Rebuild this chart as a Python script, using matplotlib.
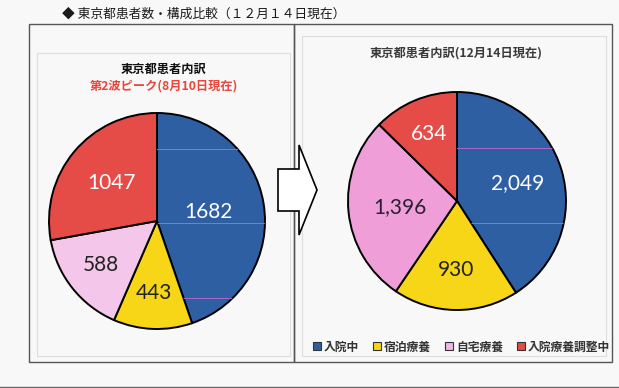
import numpy as np
import matplotlib.pyplot as plt
from matplotlib.patches import Rectangle, Polygon
from matplotlib.lines import Line2D

plt.rcParams['font.family'] = ['Noto Sans CJK JP', 'DejaVu Sans']

# ---------------- data ----------------
categories = ['入院中', '宿泊療養', '自宅療養', '入院療養調整中']
aug_values = [1682, 443, 588, 1047]
dec_values = [2049, 930, 1396, 634]
aug_labels = ['1682', '443', '588', '1047']
dec_labels = ['2,049', '930', '1,396', '634']

main_title = '◆ 東京都患者数・構成比較（１２月１４日現在）'
left_title = '東京都患者内訳'
left_sub = '第2波ピーク(8月10日現在)'
right_title = '東京都患者内訳(12月14日現在)'

# ---------------- style ----------------
W, H = 619, 388
aug_colors = ['#2f5fa3', '#f7d517', '#f3c6ea', '#e54b47']
dec_colors = ['#2f5fa3', '#f7d517', '#f09ed8', '#e54b47']
txt_colors = ['white', '#222222', '#2a2035', 'white']
legend_colors = ['#2f5fa3', '#f7d517', '#f3b6e4', '#e54b47']

fig = plt.figure(figsize=(W / 100, H / 100), dpi=100)
fig.patch.set_facecolor('#f8f8f8')

# overlay in pixel coordinates
ov = fig.add_axes([0, 0, 1, 1])
ov.set_xlim(0, W)
ov.set_ylim(H, 0)
ov.axis('off')

# frames
ov.add_patch(Rectangle((29, 24), 265, 338, fill=False, ec='#555555', lw=1.0))
ov.add_patch(Rectangle((294, 24), 318, 338, fill=False, ec='#555555', lw=1.0))
ov.add_patch(Rectangle((37, 53), 253, 303, fill=False, ec='#dddddd', lw=0.8))
ov.add_patch(Rectangle((302, 36), 304, 320, fill=False, ec='#dddddd', lw=0.8))
ov.plot([0, W], [386.5, 386.5], color='#666666', lw=1.0)

# arrow
arrow = Polygon([(278, 169), (299, 169), (299, 145), (317, 190),
                 (299, 235), (299, 211), (278, 211)],
                closed=True, fc='white', ec='black', lw=1.2, zorder=5)
ov.add_patch(arrow)

# titles
ov.text(62, 14, main_title, fontsize=9.2, color='#1a1a1a', va='center', ha='left')
ov.text(163, 69, left_title, fontsize=8.8, fontweight='bold', color='#111111',
        ha='center', va='center')
ov.text(164, 86, left_sub, fontsize=8.8, fontweight='bold', color='#e8463c',
        ha='center', va='center')
ov.text(456, 53, right_title, fontsize=8.8, fontweight='bold', color='#3a3a3a',
        ha='center', va='center')


def draw_pie(cx, cy, r, values, colors, labels, dists, grid_y, pink_txt):
    pad = 1.03
    ax = fig.add_axes([(cx - r * pad) / W, (H - cy - r * pad) / H,
                       2 * r * pad / W, 2 * r * pad / H])
    wedges, _ = ax.pie(values, colors=colors, startangle=90, counterclock=False,
                       radius=1, wedgeprops=dict(edgecolor='black', linewidth=1.4))
    ax.set_xlim(-pad, pad)
    ax.set_ylim(-pad, pad)
    ax.set_aspect('equal')
    ax.axis('off')
    # faint horizontal rules seen inside the blue slice
    for gy in grid_y:
        yy = (cy - gy) / r
        ln, = ax.plot([-1, 1], [yy, yy], color='#a868c8', lw=0.7, zorder=3)
        ln.set_clip_path(wedges[0])
    for i, w in enumerate(wedges):
        ang = np.deg2rad((w.theta1 + w.theta2) / 2)
        d = dists[i]
        col = txt_colors[i] if i != 2 else pink_txt
        ax.text(d * np.cos(ang), d * np.sin(ang), labels[i], fontsize=15,
                family='Lato', color=col, ha='center', va='center', zorder=4)
    return ax


draw_pie(157, 221, 108, aug_values, aug_colors, aug_labels,
         [0.48, 0.67, 0.66, 0.55], [149, 223, 298], '#222222')
draw_pie(457, 201, 109, dec_values, dec_colors, dec_labels,
         [0.58, 0.63, 0.53, 0.67], [148, 223], '#2a2035')

handles = [Line2D([], [], marker='s', ls='none', markersize=5.5,
                  markerfacecolor=c, markeredgecolor='#333333', markeredgewidth=0.8)
           for c in legend_colors]
fig.legend(handles, categories, loc='center', bbox_to_anchor=(461 / W, 1 - 347 / H),
           ncol=4, frameon=False, handlelength=0.8, handletextpad=0.2,
           columnspacing=1.1, prop={'weight': 'bold', 'size': 8.5})
for t in fig.legends[0].get_texts():
    t.set_color('#333333')

fig.savefig('out.png', dpi=100, facecolor=fig.get_facecolor())
